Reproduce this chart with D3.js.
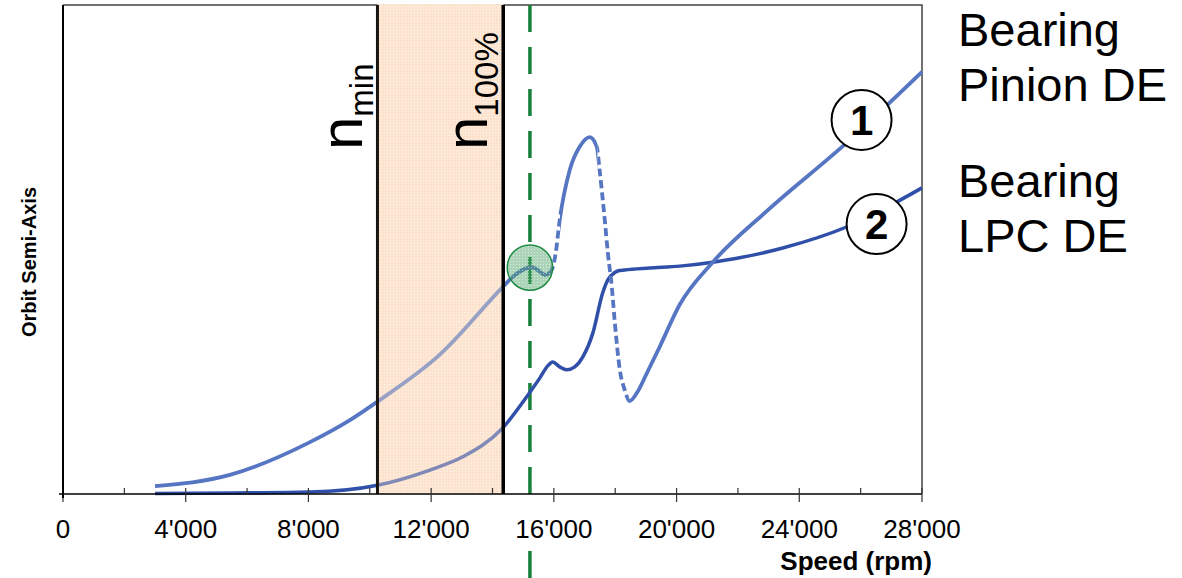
<!DOCTYPE html>
<html>
<head>
<meta charset="utf-8">
<script src="https://cdn.jsdelivr.net/npm/d3@7"></script>
<style>
  body { margin: 0; background: #fff; }
  svg { display: block; font-family: "Liberation Sans", Arial, sans-serif; }
</style>
</head>
<body>
<div id="chart"></div>
<script>
// Bearing Pinion DE (curve 1) - speed in rpm, orbit semi-axis (relative)
const speed1 = [3000, 5440, 8050, 9350, 10250, 12300, 14330, 14660, 15120, 15280, 15470, 15730, 15930, 16060, 16190, 16520, 16840, 17170, 17400, 17490, 17660, 17760, 17890, 17980, 18150, 18310, 18470, 18730, 19030, 19450, 20100, 21180, 22930, 25540, 28000];
const orbit1 = [1.6, 3.9, 10.6, 15.1, 18.9, 28.6, 42.3, 44.4, 46.2, 46.4, 45.8, 44.8, 45.8, 49.3, 56.0, 66.3, 71.0, 73.0, 71.0, 66.3, 56.0, 49.3, 42.3, 35.6, 25.4, 21.3, 19.0, 20.9, 24.7, 30.1, 38.7, 47.4, 57.8, 71.8, 86.3];

// Bearing LPC DE (curve 2)
const speed2 = [3000, 5500, 8050, 10250, 11960, 13030, 14330, 15150, 15540, 15800, 15960, 16190, 16420, 16680, 16940, 17270, 17590, 17760, 17890, 18080, 18310, 19120, 20100, 21180, 23460, 25540, 28000];
const orbit2 = [0.1, 0.2, 0.4, 1.8, 4.9, 7.6, 13.5, 20.2, 23.7, 26.2, 27.0, 26.0, 25.4, 26.0, 28.0, 32.9, 41.1, 43.8, 44.8, 45.6, 45.8, 46.2, 46.6, 47.4, 50.3, 54.6, 62.6];

// parts of curve 1 drawn dashed (steep transitions)
const dashed1 = [[15930, 16200], [17420, 18420]];

// operating range and markers
const nMin = 10250;
const n100 = 14350;
const criticalSpeed = 15220;
const criticalOrbit = 46.3;

const xMajor = [0, 4000, 8000, 12000, 16000, 20000, 24000, 28000];
const xMinor = [2000, 6000, 10000, 14000, 18000, 22000, 26000];

// curve tags: [speed, orbit, text]
const tags = [[26030, 76.5, "1"], [26520, 55.2, "2"]];
const legend1 = ["Bearing", "Pinion DE"];
const legend2 = ["Bearing", "LPC DE"];

const width = 1182, height = 578;
const plotLeft = 63, plotRight = 922, plotTop = 5, plotBottom = 494;

const svg = d3.select("#chart").append("svg")
    .attr("width", width)
    .attr("height", height);

const x = d3.scaleLinear().domain([0, 28000]).range([plotLeft, plotRight]);
const y = d3.scaleLinear().domain([0, 100]).range([plotBottom, plotTop]);

const defs = svg.append("defs");

// peach dotted texture of the operating band
const pat = defs.append("pattern")
    .attr("id", "peach")
    .attr("width", 3).attr("height", 3)
    .attr("patternUnits", "userSpaceOnUse");
pat.append("rect").attr("width", 3).attr("height", 3).attr("fill", "#fce2ca");
pat.append("rect").attr("width", 3).attr("height", 1).attr("fill", "#fdf0e4");
pat.append("rect").attr("width", 1).attr("height", 3).attr("fill", "#fdf0e4");

// green dotted texture of the marker circle
const gpat = defs.append("pattern")
    .attr("id", "greendots")
    .attr("width", 3).attr("height", 3)
    .attr("patternUnits", "userSpaceOnUse");
gpat.append("rect").attr("width", 3).attr("height", 3).attr("fill", "rgba(70,160,100,0.45)");
gpat.append("rect").attr("width", 1).attr("height", 1).attr("fill", "rgba(255,255,255,0.5)");

// clip paths for solid vs dashed parts of curve 1
const clipSolid = defs.append("clipPath").attr("id", "clipSolid");
const clipDash = defs.append("clipPath").attr("id", "clipDash");
let prev = 0;
dashed1.forEach(r => {
    clipSolid.append("rect")
        .attr("x", x(prev)).attr("y", 0)
        .attr("width", x(r[0]) - x(prev)).attr("height", height);
    clipDash.append("rect")
        .attr("x", x(r[0])).attr("y", 0)
        .attr("width", x(r[1]) - x(r[0])).attr("height", height);
    prev = r[1];
});
clipSolid.append("rect")
    .attr("x", x(prev)).attr("y", 0)
    .attr("width", width - x(prev)).attr("height", height);

// plot frame (top and right)
svg.append("path")
    .attr("d", `M${plotLeft},${plotTop}H${plotRight}V${plotBottom}`)
    .attr("fill", "none")
    .attr("stroke", "#444")
    .attr("stroke-width", 1.5);

// operating band
svg.append("rect")
    .attr("x", x(nMin)).attr("y", plotTop - 1)
    .attr("width", x(n100) - x(nMin))
    .attr("height", plotBottom - plotTop + 1)
    .attr("fill", "url(#peach)");

// green dashed line at the critical speed
svg.append("line")
    .attr("x1", x(criticalSpeed)).attr("x2", x(criticalSpeed))
    .attr("y1", plotTop).attr("y2", height)
    .attr("stroke", "#17803c")
    .attr("stroke-width", 3.5)
    .attr("stroke-dasharray", "27,15");

const line = d3.line()
    .x(d => x(d[0]))
    .y(d => y(d[1]))
    .curve(d3.curveMonotoneX);

const data1 = speed1.map((s, i) => [s, orbit1[i]]);
const data2 = speed2.map((s, i) => [s, orbit2[i]]);

svg.append("path")
    .datum(data2)
    .attr("d", line)
    .attr("fill", "none")
    .attr("stroke", "#2f4fa8")
    .attr("stroke-width", 3.5);

svg.append("path")
    .datum(data1)
    .attr("d", line)
    .attr("clip-path", "url(#clipSolid)")
    .attr("fill", "none")
    .attr("stroke", "#5675c2")
    .attr("stroke-width", 3.8);

svg.append("path")
    .datum(data1)
    .attr("d", line)
    .attr("clip-path", "url(#clipDash)")
    .attr("fill", "none")
    .attr("stroke", "#5675c2")
    .attr("stroke-width", 3.8)
    .attr("stroke-dasharray", "8,4");

// band overlay greys the curves inside it
svg.append("rect")
    .attr("x", x(nMin)).attr("y", plotTop - 1)
    .attr("width", x(n100) - x(nMin))
    .attr("height", plotBottom - plotTop + 1)
    .attr("fill", "#fce2ca")
    .attr("opacity", 0.4);

// band limit lines
[nMin, n100].forEach((v, i) => {
    svg.append("line")
        .attr("x1", x(v)).attr("x2", x(v))
        .attr("y1", plotTop).attr("y2", plotBottom)
        .attr("stroke", i === 0 ? "#1a1410" : "#000")
        .attr("stroke-width", i === 0 ? 3 : 3.5);
});

// critical speed marker circle
svg.append("circle")
    .attr("cx", x(criticalSpeed))
    .attr("cy", y(criticalOrbit))
    .attr("r", 22.7)
    .attr("fill", "url(#greendots)")
    .attr("stroke", "#1f8a45")
    .attr("stroke-width", 1.5);

// rotated band labels
function bandLabel(v, sub, offset) {
    const t = svg.append("text")
        .attr("transform", `translate(${x(v) - offset},150) rotate(-90)`)
        .attr("fill", "#000");
    t.append("tspan").attr("font-size", 60).text("n");
    t.append("tspan").attr("font-size", 33).attr("dy", 11).text(sub);
}
bandLabel(nMin, "min", 15);
bandLabel(n100, "100%", 16);

// x axis
const xAxisY = plotBottom;
svg.append("line")
    .attr("x1", plotLeft - 4).attr("x2", plotRight)
    .attr("y1", xAxisY).attr("y2", xAxisY)
    .attr("stroke", "#000").attr("stroke-width", 1.5);

svg.selectAll(".major")
    .data(xMajor)
    .enter().append("line")
    .attr("x1", d => x(d)).attr("x2", d => x(d))
    .attr("y1", xAxisY - 6).attr("y2", xAxisY + 8)
    .attr("stroke", "#333").attr("stroke-width", 1.2);

svg.selectAll(".minor")
    .data(xMinor)
    .enter().append("line")
    .attr("x1", d => x(d)).attr("x2", d => x(d))
    .attr("y1", xAxisY - 6).attr("y2", xAxisY)
    .attr("stroke", "#333").attr("stroke-width", 1.2);

const fmt = v => d3.format(",")(v).replace(/,/g, "'");

svg.selectAll(".tickbg")
    .data(xMajor)
    .enter().append("rect")
    .attr("x", d => x(d) - 36).attr("y", 503)
    .attr("width", 72).attr("height", 42)
    .attr("fill", "#fff");

svg.selectAll(".ticklabel")
    .data(xMajor)
    .enter().append("text")
    .attr("x", d => x(d))
    .attr("y", 538)
    .attr("text-anchor", "middle")
    .attr("font-size", 26)
    .text(fmt);

// y axis
svg.append("line")
    .attr("x1", plotLeft).attr("x2", plotLeft)
    .attr("y1", plotTop).attr("y2", plotBottom + 4)
    .attr("stroke", "#000").attr("stroke-width", 2);

// axis titles
svg.append("text")
    .attr("x", 932).attr("y", 570)
    .attr("text-anchor", "end")
    .attr("font-size", 26)
    .attr("font-weight", "bold")
    .text("Speed (rpm)");

svg.append("text")
    .attr("transform", "translate(36,262) rotate(-90)")
    .attr("text-anchor", "middle")
    .attr("font-size", 20)
    .attr("font-weight", "bold")
    .text("Orbit Semi-Axis");

// circled curve tags
tags.forEach(t => {
    const g = svg.append("g").attr("transform", `translate(${x(t[0])},${y(t[1])})`);
    g.append("circle").attr("r", 30).attr("fill", "#fff").attr("stroke", "#000").attr("stroke-width", 2);
    g.append("text")
        .attr("text-anchor", "middle")
        .attr("dy", 15)
        .attr("font-size", 42)
        .attr("font-weight", "bold")
        .text(t[2]);
});

// legend text on the right
[[legend1, 46], [legend2, 197]].forEach(l => {
    l[0].forEach((s, i) => {
        svg.append("text")
            .attr("x", 958)
            .attr("y", l[1] + i * 55)
            .attr("font-size", 47)
            .text(s);
    });
});
</script>
</body>
</html>
